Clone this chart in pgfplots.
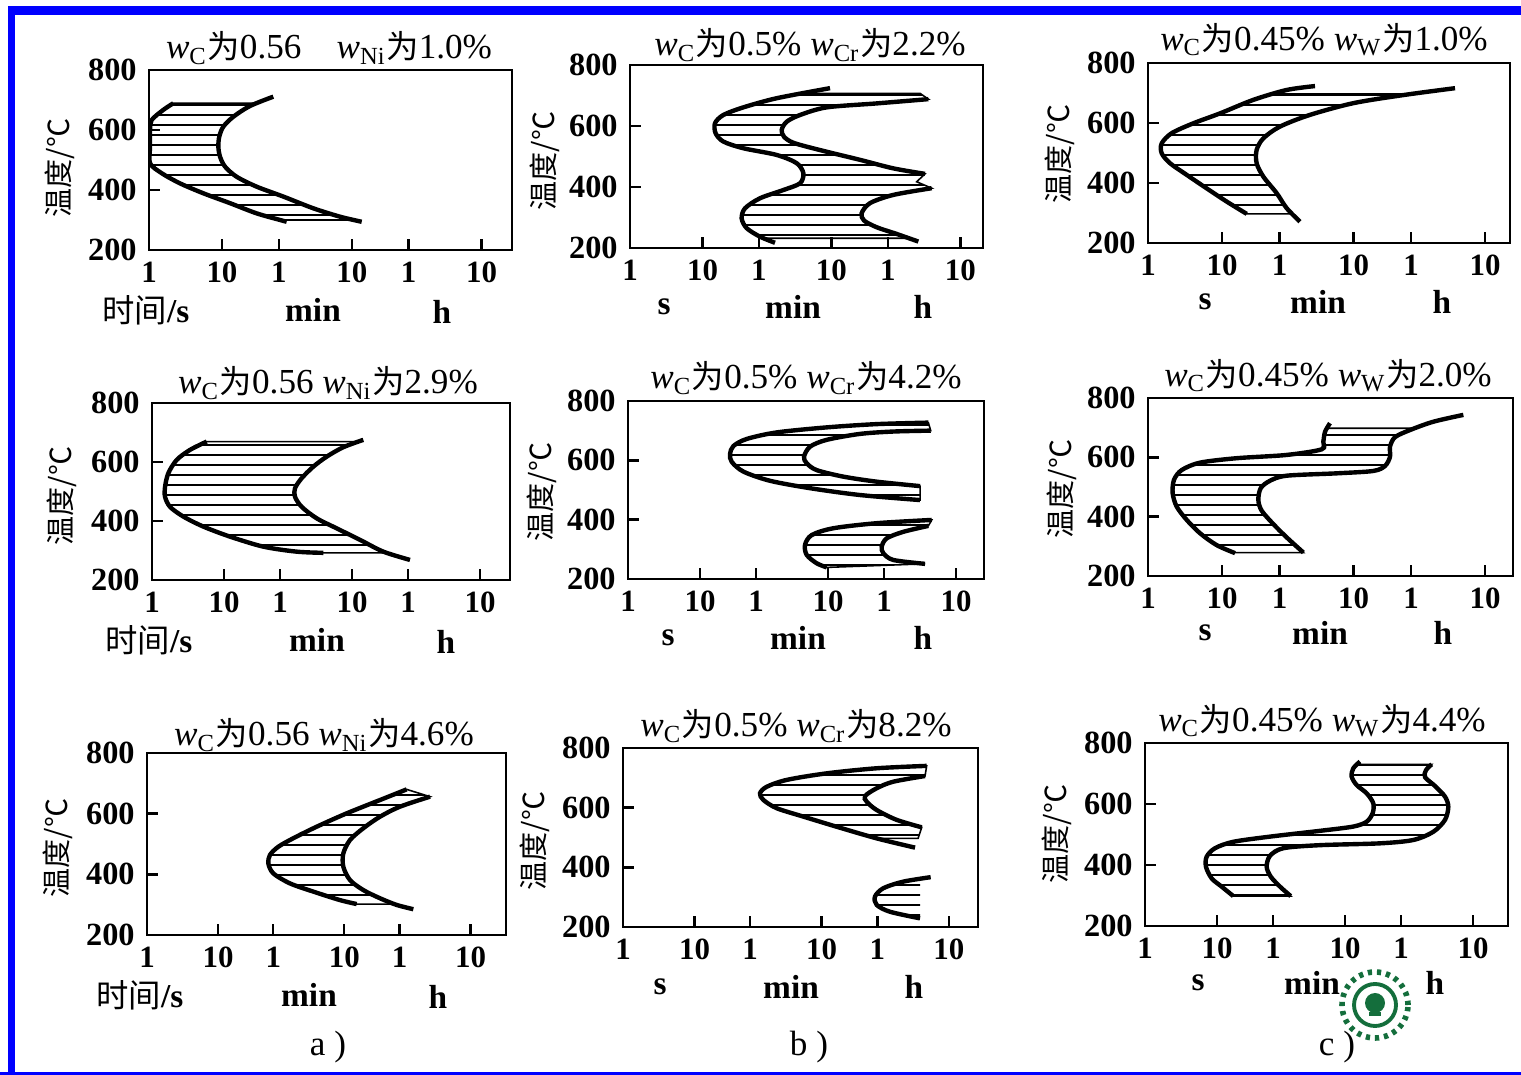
\documentclass[border=0pt]{standalone}
\usepackage{fontspec}
\setmainfont{Liberation Serif}
\newfontfamily\cjk{Noto Sans CJK SC}[Scale=0.92]
\usepackage{pgfplots}
\pgfplotsset{compat=1.18}
\usetikzlibrary{patterns.meta}

\definecolor{frameblue}{RGB}{0,0,255}
\definecolor{sealgreen}{RGB}{20,110,60}

% one TTT panel: x = log10(t/s), y = temperature
\pgfplotsset{
  ttt/.style={
    scale only axis, anchor=south west,
    xmin=0, ymin=200, ymax=800,
    axis line style={line width=0.7pt},
    xtick={0,1,1.778,2.778,3.556,4.556},
    xticklabels={1,10,1,10,1,10},
    ytick={200,400,600,800},
    yticklabels={200,400,600,800},
    tick align=inside, xtick pos=bottom, ytick pos=left,
    major tick length=1.1mm,
    tick style={line width=0.7pt, black},
    tick label style={font=\fontsize{8.8}{9}\selectfont\bfseries},
    y tick label style={font=\fontsize{9.2}{9}\selectfont\bfseries},
  },
  cur/.style={black, line width=1.25pt, smooth},
  hatch/.style={pattern={Lines[angle=0,distance=1.0mm,line width=0.6pt]}, draw=black, line width=0.45pt},
}

\newcommand{\w}[1]{\textit{w}\textsubscript{#1}}
\newcommand{\wei}{{\cjk 为}}
\newcommand{\ttl}{\fontsize{10}{11}\selectfont}
\newcommand{\lab}{\fontsize{9.5}{10}\selectfont\bfseries}

\begin{document}
\begin{tikzpicture}
\useasboundingbox (0,0) rectangle (152.1mm,107.5mm);

% ---------- row 1 ----------
\begin{axis}[ttt, at={(14.9mm,82.5mm)}, width=36.3mm, height=18mm, xmax=4.973]
\addplot[hatch] coordinates {(0.333,689) (0.196,667) (0.036,633) (0.014,600) (0.014,544) (0.014,489) (0.173,456) (0.425,422) (0.744,389) (1.11,356) (1.475,322) (1.795,300) (2.809,300) (2.616,311) (2.25,339) (1.84,378) (1.475,411) (1.201,444) (1.041,478) (0.973,511) (0.95,544) (0.963,578) (1.018,611) (1.155,644) (1.384,680) (1.477,689)} --cycle;
\addplot[cur] coordinates {(0.333,689) (0.196,667) (0.036,633) (0.014,600) (0.014,544) (0.014,489) (0.173,456) (0.425,422) (0.744,389) (1.11,356) (1.475,322) (1.795,300) (1.886,294)};
\addplot[cur] coordinates {(1.703,711) (1.384,680) (1.155,644) (1.018,611) (0.963,578) (0.95,544) (0.973,511) (1.041,478) (1.201,444) (1.475,411) (1.84,378) (2.25,339) (2.616,311) (2.914,294)};
\end{axis}

\begin{axis}[ttt, at={(63.0mm,82.7mm)}, width=35.3mm, height=18.3mm, xmax=4.869]
\addplot[hatch] coordinates {(2.38,707) (2.023,691) (1.563,661) (1.287,636) (1.172,609) (1.181,576) (1.287,549) (1.563,527) (2.023,505) (2.299,478) (2.391,445) (2.345,412) (2.115,390) (1.793,363) (1.586,330) (1.54,297) (1.609,265) (1.793,237) (1.845,232) (3.845,232) (3.678,246) (3.402,268) (3.228,290) (3.195,314) (3.31,347) (3.632,374) (4.161,396) (3.954,417) (4.069,443) (3.632,461) (3.172,489) (2.621,521) (2.253,545) (2.124,565) (2.092,587) (2.161,614) (2.345,636) (2.713,661) (3.402,674) (4.115,688) (4.0,707)} --cycle;
\addplot[cur] coordinates {(2.759,724) (2.023,691) (1.563,661) (1.287,636) (1.172,609) (1.181,576) (1.287,549) (1.563,527) (2.023,505) (2.299,478) (2.391,445) (2.345,412) (2.115,390) (1.793,363) (1.586,330) (1.54,297) (1.609,265) (1.793,237) (2.0,217)};
\addplot[cur] coordinates {(4.115,688) (3.402,674) (2.713,661) (2.345,636) (2.161,614) (2.092,587) (2.124,565) (2.253,545) (2.621,521) (3.172,489) (3.632,461) (4.069,443)};
\addplot[cur] coordinates {(4.161,396) (3.632,374) (3.31,347) (3.195,314) (3.228,290) (3.402,268) (3.678,246) (3.977,221)};
\end{axis}

\begin{axis}[ttt, at={(114.8mm,83.2mm)}, width=36.2mm, height=18mm, xmax=4.892]
\addplot[hatch] coordinates {(1.696,697) (1.423,677) (0.973,632) (0.613,599) (0.32,566) (0.185,532) (0.185,499) (0.297,466) (0.523,427) (0.793,382) (1.063,338) (1.334,297) (1.95,297) (1.874,316) (1.739,366) (1.559,421) (1.468,466) (1.468,510) (1.559,549) (1.784,588) (2.189,627) (2.774,666) (3.45,693) (3.572,697)} --cycle;
\addplot[cur] coordinates {(2.257,723) (1.874,710) (1.423,677) (0.973,632) (0.613,599) (0.32,566) (0.185,532) (0.185,499) (0.297,466) (0.523,427) (0.793,382) (1.063,338) (1.334,297)};
\addplot[cur] coordinates {(4.149,716) (3.45,693) (2.774,666) (2.189,627) (1.784,588) (1.559,549) (1.468,510) (1.468,466) (1.559,421) (1.739,366) (1.874,316) (2.054,271)};
\end{axis}

% ---------- row 2 ----------
\begin{axis}[ttt, at={(15.2mm,49.5mm)}, width=35.8mm, height=17.7mm, xmax=4.972]
\addplot[hatch] coordinates {(0.759,669) (0.528,641) (0.343,607) (0.227,562) (0.181,516) (0.181,482) (0.25,448) (0.435,415) (0.713,381) (1.083,347) (1.546,313) (2.01,296) (2.38,292) (3.266,292) (3.213,296) (2.889,336) (2.565,375) (2.287,409) (2.079,448) (1.986,482) (1.986,511) (2.079,545) (2.24,584) (2.426,618) (2.657,650) (2.868,669)} --cycle;
\addplot[cur] coordinates {(0.759,669) (0.528,641) (0.343,607) (0.227,562) (0.181,516) (0.181,482) (0.25,448) (0.435,415) (0.713,381) (1.083,347) (1.546,313) (2.01,296) (2.38,292)};
\addplot[cur] coordinates {(2.935,675) (2.657,650) (2.426,618) (2.24,584) (2.079,545) (1.986,511) (1.986,482) (2.079,448) (2.287,409) (2.565,375) (2.889,336) (3.213,296) (3.583,268)};
\end{axis}

\begin{axis}[ttt, at={(62.8mm,49.6mm)}, width=35.6mm, height=17.8mm, xmax=4.944]
\addplot[hatch] coordinates {(4.171,727) (3.454,722) (2.76,711) (2.065,694) (1.649,672) (1.463,648) (1.417,621) (1.44,595) (1.602,562) (1.972,531) (2.528,506) (3.222,483) (4.056,466) (4.056,513) (3.454,528) (2.99,545) (2.62,567) (2.482,590) (2.444,612) (2.528,646) (2.76,669) (3.222,689) (3.685,697) (4.204,700)} --cycle;
\addplot[hatch] coordinates {(4.218,399) (3.454,388) (2.852,371) (2.551,348) (2.458,315) (2.482,281) (2.62,253) (2.76,239) (4.125,251) (3.685,264) (3.546,287) (3.523,309) (3.593,337) (3.824,359) (4.171,379)} --cycle;
\addplot[cur] coordinates {(4.171,727) (3.454,722) (2.76,711) (2.065,694) (1.649,672) (1.463,648) (1.417,621) (1.44,595) (1.602,562) (1.972,531) (2.528,506) (3.222,483) (4.056,466)};
\addplot[cur] coordinates {(4.204,700) (3.685,697) (3.222,689) (2.76,669) (2.528,646) (2.444,612) (2.482,590) (2.62,567) (2.99,545) (3.454,528) (4.056,513)};
\addplot[cur] coordinates {(4.218,399) (3.454,388) (2.852,371) (2.551,348) (2.458,315) (2.482,281) (2.62,253) (2.76,239)};
\addplot[cur] coordinates {(4.171,379) (3.824,359) (3.593,337) (3.523,309) (3.546,287) (3.685,264) (4.125,251)};
\end{axis}

\begin{axis}[ttt, at={(114.8mm,49.9mm)}, width=36.5mm, height=17.8mm, xmax=4.932]
\addplot[hatch] coordinates {(2.42,698) (2.392,686) (2.369,653) (2.347,627) (1.874,608) (1.199,597) (0.703,582) (0.455,557) (0.351,524) (0.333,479) (0.387,434) (0.523,389) (0.703,344) (0.928,304) (1.158,279) (2.099,279) (1.874,330) (1.693,375) (1.536,420) (1.491,456) (1.523,496) (1.649,521) (1.874,538) (2.55,546) (3.045,554) (3.203,571) (3.27,602) (3.27,636) (3.338,668) (3.541,692) (3.608,698)} --cycle;
\addplot[cur] coordinates {(2.459,715) (2.392,686) (2.369,653) (2.347,627) (1.874,608) (1.199,597) (0.703,582) (0.455,557) (0.351,524) (0.333,479) (0.387,434) (0.523,389) (0.703,344) (0.928,304) (1.176,277)};
\addplot[cur] coordinates {(4.261,743) (3.856,720) (3.541,692) (3.338,668) (3.27,636) (3.27,602) (3.203,571) (3.045,554) (2.55,546) (1.874,538) (1.649,521) (1.523,496) (1.491,456) (1.536,420) (1.693,375) (1.874,330) (2.099,279)};
\end{axis}

% ---------- row 3 ----------
\begin{axis}[ttt, at={(14.7mm,14.0mm)}, width=35.9mm, height=18.2mm, xmax=5.056]
\addplot[hatch] coordinates {(3.657,680) (3.282,645) (2.812,601) (2.39,557) (2.061,519) (1.85,491) (1.732,464) (1.709,436) (1.779,403) (2.014,370) (2.342,343) (2.718,315) (2.953,302) (3.485,302) (3.282,321) (3.047,348) (2.859,381) (2.765,425) (2.765,469) (2.859,513) (3.047,552) (3.282,590) (3.563,623) (3.986,656)} --cycle;
\addplot[cur] coordinates {(3.657,680) (3.282,645) (2.812,601) (2.39,557) (2.061,519) (1.85,491) (1.732,464) (1.709,436) (1.779,403) (2.014,370) (2.342,343) (2.718,315) (2.953,302)};
\addplot[cur] coordinates {(3.986,656) (3.563,623) (3.282,590) (3.047,552) (2.859,513) (2.765,469) (2.765,425) (2.859,381) (3.047,348) (3.282,321) (3.517,299) (3.751,285)};
\end{axis}

\begin{axis}[ttt, at={(62.3mm,14.8mm)}, width=35.5mm, height=17.9mm, xmax=4.965]
\addplot[hatch] coordinates {(4.247,740) (3.548,732) (2.849,715) (2.29,693) (2.01,670) (1.916,648) (1.962,626) (2.15,598) (2.522,570) (2.988,536) (3.548,497) (4.127,497) (4.178,534) (3.828,559) (3.548,592) (3.408,620) (3.385,639) (3.548,665) (3.78,687) (4.224,706)} --cycle;
\addplot[hatch, draw=none] coordinates {(4.303,367) (3.92,352) (3.641,330) (3.524,302) (3.548,274) (3.734,251) (4.154,229) (4.154,360)} --cycle;
\addplot[cur] coordinates {(4.247,740) (3.548,732) (2.849,715) (2.29,693) (2.01,670) (1.916,648) (1.962,626) (2.15,598) (2.522,570) (2.988,536) (3.548,497) (4.084,466)};
\addplot[cur] coordinates {(4.224,706) (3.78,687) (3.548,665) (3.385,639) (3.408,620) (3.548,592) (3.828,559) (4.178,534)};
\addplot[cur] coordinates {(4.303,367) (3.92,352) (3.641,330) (3.524,302) (3.548,274) (3.734,251) (4.154,229)};
\end{axis}

\begin{axis}[ttt, at={(114.5mm,14.9mm)}, width=36.3mm, height=18.3mm, xmax=5.042]
\addplot[hatch] coordinates {(2.948,730) (2.893,717) (2.87,690) (2.94,662) (3.079,635) (3.171,602) (3.162,570) (3.079,542) (2.893,526) (2.431,512) (1.736,493) (1.226,476) (0.972,455) (0.856,427) (0.847,394) (0.926,356) (1.065,329) (1.226,298) (2.024,298) (1.875,329) (1.746,362) (1.69,394) (1.736,430) (1.921,455) (2.431,465) (3.264,471) (3.727,482) (4.005,509) (4.167,548) (4.213,591) (4.167,624) (4.028,659) (3.889,688) (3.903,711) (3.982,730)} --cycle;
\addplot[cur] coordinates {(2.986,739) (2.893,717) (2.87,690) (2.94,662) (3.079,635) (3.171,602) (3.162,570) (3.079,542) (2.893,526) (2.431,512) (1.736,493) (1.226,476) (0.972,455) (0.856,427) (0.847,394) (0.926,356) (1.065,329) (1.226,298)};
\addplot[cur] coordinates {(3.982,730) (3.903,711) (3.889,688) (4.028,659) (4.167,624) (4.213,591) (4.167,548) (4.005,509) (3.727,482) (3.264,471) (2.431,465) (1.921,455) (1.736,430) (1.69,394) (1.746,362) (1.875,329) (2.024,298)};
\end{axis}

% ---------- texts, in pixel units of the reference ----------
\begin{scope}[shift={(0mm,107.5mm)}, x=0.1mm, y=-0.1mm]
% frame
\fill[frameblue] (8,6) rectangle (1521,15);
\fill[frameblue] (8,6) rectangle (15,1075);
\fill[frameblue] (0,1072) rectangle (1521,1075);

% titles
\node[font=\ttl] at (329,48) {\w{C}\wei0.56\quad \w{Ni}\wei1.0\%};
\node[font=\ttl] at (810,45) {\w{C}\wei0.5\% \w{Cr}\wei2.2\%};
\node[font=\ttl] at (1324,40) {\w{C}\wei0.45\% \w{W}\wei1.0\%};
\node[font=\ttl] at (328,383) {\w{C}\wei0.56 \w{Ni}\wei2.9\%};
\node[font=\ttl] at (806,378) {\w{C}\wei0.5\% \w{Cr}\wei4.2\%};
\node[font=\ttl] at (1328,376) {\w{C}\wei0.45\% \w{W}\wei2.0\%};
\node[font=\ttl] at (324,735) {\w{C}\wei0.56 \w{Ni}\wei4.6\%};
\node[font=\ttl] at (796,726) {\w{C}\wei0.5\% \w{Cr}\wei8.2\%};
\node[font=\ttl] at (1322,721) {\w{C}\wei0.45\% \w{W}\wei4.4\%};

% y labels
\foreach \x/\y in {60/168, 545/161, 1060/154, 62/496, 542/492, 1062/489, 58/848, 535/841, 1057/834}
  \node[rotate=90, font=\fontsize{9}{9}\selectfont\cjk] at (\x,\y) {温度/℃};

% time units
\foreach \x/\y in {146/310, 149/640, 140/995}
  \node[font=\lab] at (\x,\y) {{\cjk\mdseries\fontsize{10}{10}\selectfont 时间}/s};
\foreach \x/\y in {664/307, 1205/302, 668/638, 1205/633, 660/987, 1198/983}
  \node[font=\lab] at (\x,\y) {s};
\foreach \x/\y in {313/310, 793/307, 1318/302, 317/640, 798/638, 1320/633, 309/995, 791/987, 1312/983}
  \node[font=\lab] at (\x,\y) {min};
\foreach \x/\y in {442/312, 923/307, 1442/302, 446/642, 923/638, 1443/633, 438/997, 914/987, 1435/983}
  \node[font=\lab] at (\x,\y) {h};

% sub-figure letters
\node[font=\fontsize{10}{10}\selectfont] at (328,1047) {a )};
\node[font=\fontsize{10}{10}\selectfont] at (809,1047) {b )};
\node[font=\fontsize{10}{10}\selectfont] at (1337,1047) {c )};

% seal
\draw[sealgreen, line width=1.6pt, dash pattern=on 1.2pt off 1.4pt] (1375,1005) circle[radius=3.3mm];
\draw[sealgreen, line width=1.1pt] (1375,1005) circle[radius=2.1mm];
\fill[sealgreen] (1375,1003) circle[radius=1.0mm];
\fill[sealgreen] (1369,1012) rectangle (1381,1016);
\end{scope}
\end{tikzpicture}
\end{document}
